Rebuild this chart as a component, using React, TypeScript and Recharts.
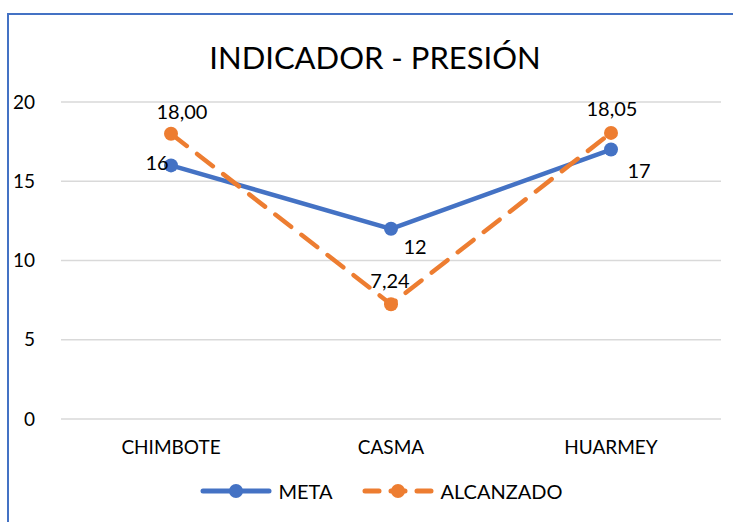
import React from 'react';
import { LineChart, Line, XAxis, YAxis, CartesianGrid, LabelList } from 'recharts';

const CATEGORIES = ['CHIMBOTE', 'CASMA', 'HUARMEY'];
const META = [16, 12, 17];
const ALCANZADO = [18.0, 7.24, 18.05];
const Y_TICKS = [0, 5, 10, 15, 20];

const BLUE = '#4472C4';
const ORANGE = '#ED7D31';
const FONT = 'Lato, "Open Sans", sans-serif';

const data = CATEGORIES.map((name, i) => ({ name, meta: META[i], alcanzado: ALCANZADO[i] }));

// label offsets (dx, dy) relative to each point
const META_LABEL_OFFSETS = [[-14, -3], [24, 17], [28, 20]];
const ALC_LABEL_OFFSETS = [[11, -23], [-1, -24], [1, -25]];

const makeLabel = (offsets: number[][], fmt: (v: number) => string) => (props: any) => {
  const { x, y, value, index } = props;
  const [dx, dy] = offsets[index] || [0, 0];
  return (
    <text x={x + dx} y={y + dy} textAnchor="middle" dominantBaseline="central"
      fontSize={20} fontFamily={FONT} fill="#000">
      {fmt(value)}
    </text>
  );
};

const LegendIcon = ({ color, dashed }: { color: string; dashed?: boolean }) => (
  <svg width={72} height={20} style={{ marginRight: 6 }}>
    <line x1={3} y1={10} x2={69} y2={10} stroke={color} strokeWidth={5}
      strokeLinecap="round" strokeDasharray={dashed ? '14 12' : undefined} />
    <circle cx={36} cy={10} r={7} fill={color} />
  </svg>
);

export default function App() {
  return (
    <div style={{ position: 'absolute', left: 0, top: 0, width: 733, height: 522, background: '#fff', fontFamily: FONT, overflow: 'hidden' }}>
      <div style={{ position: 'absolute', left: 7, top: 13, width: 740, height: 520, borderLeft: `2px solid ${BLUE}`, borderTop: `2px solid ${BLUE}` }} />
      <div style={{ position: 'absolute', left: 0, width: 750, top: 38, textAlign: 'center', fontSize: 31, color: '#000' }}>
        INDICADOR - PRESIÓN
      </div>
      <div style={{ position: 'absolute', left: 0, top: 0 }}>
        <LineChart width={733} height={522} data={data} margin={{ top: 102, right: 12, bottom: 73, left: 8 }}>
          <CartesianGrid vertical={false} stroke="#d9d9d9" strokeWidth={1.5} />
          <XAxis dataKey="name" scale="band" axisLine={false} tickLine={false} tickSize={0}
            tickMargin={22} tick={{ fontSize: 19, fill: '#000', fontFamily: FONT }} height={30} />
          <YAxis domain={[0, 20]} ticks={Y_TICKS} axisLine={false} tickLine={false} tickSize={0}
            tickMargin={26} width={53} tick={{ fontSize: 19, fill: '#000', fontFamily: FONT }} />
          <Line dataKey="meta" stroke={BLUE} strokeWidth={4.5} isAnimationActive={false}
            dot={{ r: 7, fill: BLUE, stroke: BLUE, strokeWidth: 0 }}>
            <LabelList dataKey="meta" content={makeLabel(META_LABEL_OFFSETS, (v) => String(v))} />
          </Line>
          <Line dataKey="alcanzado" stroke={ORANGE} strokeWidth={4.5} strokeDasharray="20 13"
            strokeLinecap="round" isAnimationActive={false}
            dot={{ r: 7, fill: ORANGE, stroke: ORANGE, strokeWidth: 0, strokeDasharray: '0' }}>
            <LabelList dataKey="alcanzado" content={makeLabel(ALC_LABEL_OFFSETS, (v) => v.toFixed(2).replace('.', ','))} />
          </Line>
        </LineChart>
      </div>
      <div style={{ position: 'absolute', left: 0, width: 733, top: 479, display: 'flex', justifyContent: 'center', alignItems: 'center', fontSize: 20, color: '#000' }}>
        <div style={{ display: 'flex', alignItems: 'center', marginLeft: 30 }}>
          <LegendIcon color={BLUE} />
          <span>META</span>
        </div>
        <div style={{ display: 'flex', alignItems: 'center', marginLeft: 30 }}>
          <LegendIcon color={ORANGE} dashed />
          <span>ALCANZADO</span>
        </div>
      </div>
    </div>
  );
}
